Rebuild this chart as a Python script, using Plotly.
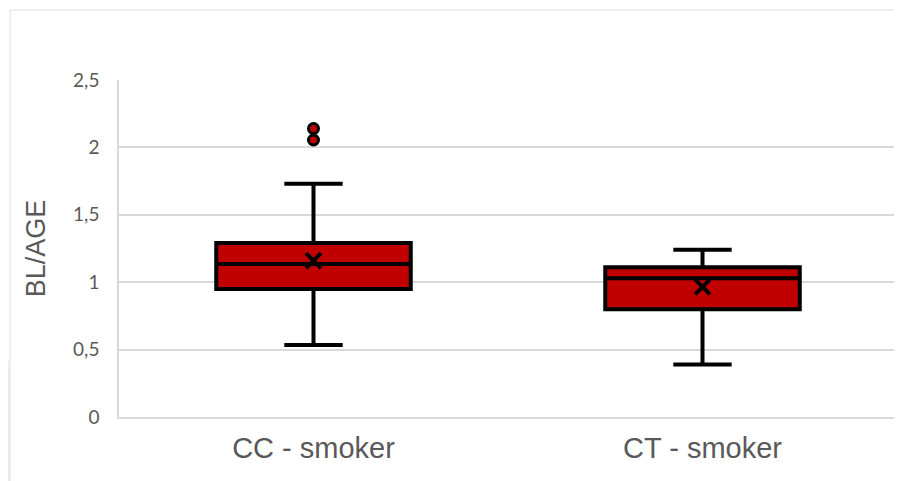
import plotly.graph_objects as go

categories = ["CC - smoker", "CT - smoker"]
q1 = [0.95, 0.80]
median = [1.135, 1.03]
q3 = [1.29, 1.11]
lower_fence = [0.535, 0.39]
upper_fence = [1.73, 1.24]
means = [1.16, 0.965]
outlier_cat = ["CC - smoker", "CC - smoker"]
outlier_vals = [2.14, 2.055]
y_ticks = [0, 0.5, 1, 1.5, 2, 2.5]

RED = "#C00000"
GREY_TXT = "#595959"
GRID = "#D9D9D9"

fig = go.Figure()

for i, c in enumerate(categories):
    fig.add_trace(go.Box(
        x=[c], q1=[q1[i]], median=[median[i]], q3=[q3[i]],
        lowerfence=[lower_fence[i]], upperfence=[upper_fence[i]],
        fillcolor=RED, line=dict(color="black", width=4),
        width=0.5, whiskerwidth=0.3, boxpoints=False, showlegend=False,
        hoverinfo="skip",
    ))

fig.add_trace(go.Scatter(
    x=categories, y=means, mode="markers", showlegend=False,
    marker=dict(symbol="x-thin", size=15, color="black",
                line=dict(color="black", width=4)),
))

fig.add_trace(go.Scatter(
    x=outlier_cat, y=outlier_vals, mode="markers", showlegend=False,
    marker=dict(symbol="circle", size=10, color=RED,
                line=dict(color="black", width=3)),
))

# page body offsets the figure by 8px
OFF = 8
W, H = 902 - OFF, 481 - OFF
L, T = 119 - OFF, 80 - OFF
R = W - (897 - OFF)
B = H - (417 - OFF)
pw, ph = W - L - R, H - T - B

def px(x):
    return (x - OFF - L) / pw

def py(y):
    return (H - B - (y - OFF)) / ph

fig.update_layout(
    width=W, height=H,
    margin=dict(l=L, r=R, t=T, b=B),
    paper_bgcolor="white", plot_bgcolor="white",
    separators=", ",
    font=dict(family="Liberation Sans, Arial, sans-serif", color=GREY_TXT),
    xaxis=dict(
        type="category", range=[-0.5, 1.5], showgrid=False,
        showline=True, linecolor=GRID, linewidth=2,
        tickfont=dict(size=29, color=GREY_TXT), ticks="", ticklabelstandoff=4,
    ),
    yaxis=dict(
        range=[0, 2.5], tickvals=y_ticks, showgrid=True, gridcolor=GRID,
        gridwidth=1.5, zeroline=False, showline=True, linecolor=GRID, linewidth=1.5,
        tickfont=dict(size=19, color=GREY_TXT, family="Lato, Open Sans, sans-serif"),
        ticks="", ticklabelstandoff=14,
        title=dict(text="BL/AGE", font=dict(size=27, color=GREY_TXT), standoff=20),
    ),
    shapes=[
        dict(type="rect", xref="paper", yref="paper",
             x0=px(10), x1=px(1000), y0=py(600), y1=py(10),
             line=dict(color="#DDDDDD", width=1), fillcolor="rgba(0,0,0,0)", layer="below"),
        dict(type="path", xref="paper", yref="paper",
             path=f"M {px(0)},{py(372)} L {px(9)},{py(360)} L {px(9)},{py(481)} L {px(0)},{py(481)} Z",
             fillcolor="#FDE3E6", line=dict(width=0), layer="below"),
    ],
)

fig.write_html("out.html")
